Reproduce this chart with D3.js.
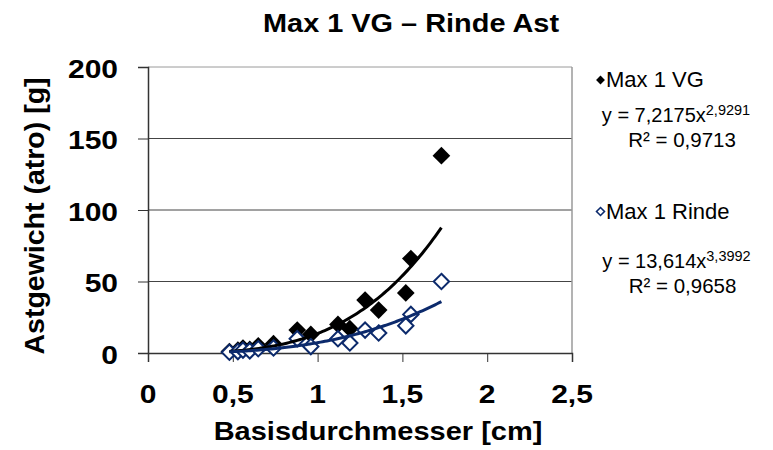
<!DOCTYPE html>
<html>
<head>
<meta charset="utf-8">
<script src="https://cdn.jsdelivr.net/npm/d3@7/dist/d3.min.js"></script>
<style>
  html, body { margin: 0; padding: 0; background: #fff; }
  svg { display: block; font-family: Arial, "Liberation Sans", sans-serif; }
</style>
</head>
<body>
<svg id="chart" width="773" height="450"></svg>
<script>
// Base diameter [cm] shared by both series
const diameters = [0.48, 0.53, 0.56, 0.60, 0.65, 0.74, 0.88, 0.96, 1.12, 1.19, 1.28, 1.36, 1.52, 1.55, 1.73];
// Branch dry weight [g]
const vgValues    = [1, 2, 3.5, 2.5, 5, 6.5, 16, 13, 20, 17, 37, 30, 42, 66, 138];
const rindeValues = [0.5, 1, 2, 1.5, 3, 3.5, 10, 4.5, 10, 7, 16, 14, 19, 27, 50];
// Power trendlines y = a·x^b as printed beside the plot
const fitVG    = { a: 13.614, b: 3.3992 };
const fitRinde = { a: 7.2175, b: 2.9291 };
const xTicks = [0, 0.5, 1, 1.5, 2, 2.5];
const yTicks = [0, 50, 100, 150, 200];

const navy = "#0c2a6c";
const svg = d3.select("#chart");
const m = { left: 148, right: 572, top: 67, bottom: 353 };

const x = d3.scaleLinear().domain([0, 2.5]).range([m.left, m.right]);
const y = d3.scaleLinear().domain([0, 200]).range([m.bottom, m.top]);
const fmt = v => String(v).replace(".", ",");

// Horizontal text, slightly flattened vertically
function label(g, px, py, txt, size, anchor, sy) {
  return g.append("text")
    .attr("transform", `translate(${px},${py}) scale(1,${sy})`)
    .attr("text-anchor", anchor)
    .attr("font-size", size)
    .attr("font-weight", "bold")
    .attr("fill", "#000")
    .text(txt);
}

// Gridlines
svg.append("g").selectAll("line").data(yTicks.filter(v => v > 0)).join("line")
  .attr("x1", m.left).attr("x2", m.right)
  .attr("y1", d => y(d)).attr("y2", d => y(d))
  .attr("stroke", d => d === 200 ? "#9a9a9a" : "#444").attr("stroke-width", 1);
// Right border of plot area
svg.append("line").attr("x1", m.right).attr("x2", m.right)
  .attr("y1", m.top).attr("y2", m.bottom).attr("stroke", "#9a9a9a").attr("stroke-width", 1.5);

// Axes
const xAxis = d3.axisBottom(x).tickValues(xTicks).tickSize(9).tickFormat("");
const yAxis = d3.axisLeft(y).tickValues(yTicks).tickSize(10).tickFormat("");
const gx = svg.append("g").attr("transform", `translate(0,${m.bottom})`).call(xAxis);
const gy = svg.append("g").attr("transform", `translate(${m.left},0)`).call(yAxis);
[gx, gy].forEach(g => {
  g.select(".domain").attr("stroke", "#333").attr("stroke-width", 1.5);
  g.selectAll(".tick line").attr("stroke", "#333").attr("stroke-width", 1);
});

// Tick labels
const tl = svg.append("g");
xTicks.forEach(v => label(tl, x(v), 403, fmt(v), 30, "middle", 0.86));
yTicks.forEach(v => label(tl, 118, y(v) + 10.5, fmt(v), 30, "end", 0.86));

// Titles
label(svg, 411, 32, "Max 1 VG – Rinde Ast", 28.9, "middle", 0.88);
label(svg, 378, 440, "Basisdurchmesser [cm]", 29, "middle", 0.9);
svg.append("text")
  .attr("transform", "translate(43.5,216) rotate(-90)")
  .attr("text-anchor", "middle").attr("font-size", 28.5).attr("font-weight", "bold")
  .text("Astgewicht (atro) [g]");

// Markers
const diamond = d3.symbol().type(d3.symbolDiamond2);
const pts = diameters.map((d, i) => ({ d, vg: vgValues[i], ri: rindeValues[i] }));
svg.append("g").selectAll("path").data(pts).join("path")
  .attr("d", diamond.size(200)())
  .attr("transform", p => `translate(${x(p.d)},${y(p.vg)})`)
  .attr("fill", "#000");
svg.append("g").selectAll("path").data(pts).join("path")
  .attr("d", diamond.size(150)())
  .attr("transform", p => `translate(${x(p.d)},${y(p.ri)})`)
  .attr("fill", "#fff").attr("stroke", navy).attr("stroke-width", 2);

// Trendlines
const xMin = d3.min(diameters), xMax = d3.max(diameters);
const xs = d3.range(0, 101).map(i => xMin + (xMax - xMin) * i / 100);
const line = d3.line().x(d => x(d[0])).y(d => y(d[1])).curve(d3.curveLinear);
[[fitVG, "#000"], [fitRinde, navy]].forEach(([f, c]) => {
  svg.append("path")
    .attr("d", line(xs.map(v => [v, f.a * Math.pow(v, f.b)])))
    .attr("fill", "none").attr("stroke", c).attr("stroke-width", 3);
});

// Legend and equations
const lg = svg.append("g").attr("font-size", 22);
lg.append("path").attr("d", diamond.size(50)()).attr("transform", "translate(600.5,80)").attr("fill", "#000");
lg.append("text").attr("x", 606).attr("y", 87).text("Max 1 VG");
lg.append("path").attr("d", diamond.size(40)()).attr("transform", "translate(600.5,211.5)")
  .attr("fill", "#fff").attr("stroke", navy).attr("stroke-width", 1.6);
lg.append("text").attr("x", 606).attr("y", 219).text("Max 1 Rinde");

function equation(cx, by, a, b, r2) {
  const t = lg.append("text").attr("x", cx).attr("y", by).attr("text-anchor", "middle").attr("font-size", 20);
  t.append("tspan").text(`y = ${fmt(a)}x`);
  t.append("tspan").attr("dy", -7).attr("font-size", 14.5).text(fmt(b));
  lg.append("text").attr("x", cx + 6).attr("y", by + 25).attr("text-anchor", "middle").attr("font-size", 20.5)
    .text(`R² = ${r2}`);
}
equation(676, 122, 7.2175, 2.9291, "0,9713");
equation(676.5, 268, 13.614, 3.3992, "0,9658");
</script>
</body>
</html>
